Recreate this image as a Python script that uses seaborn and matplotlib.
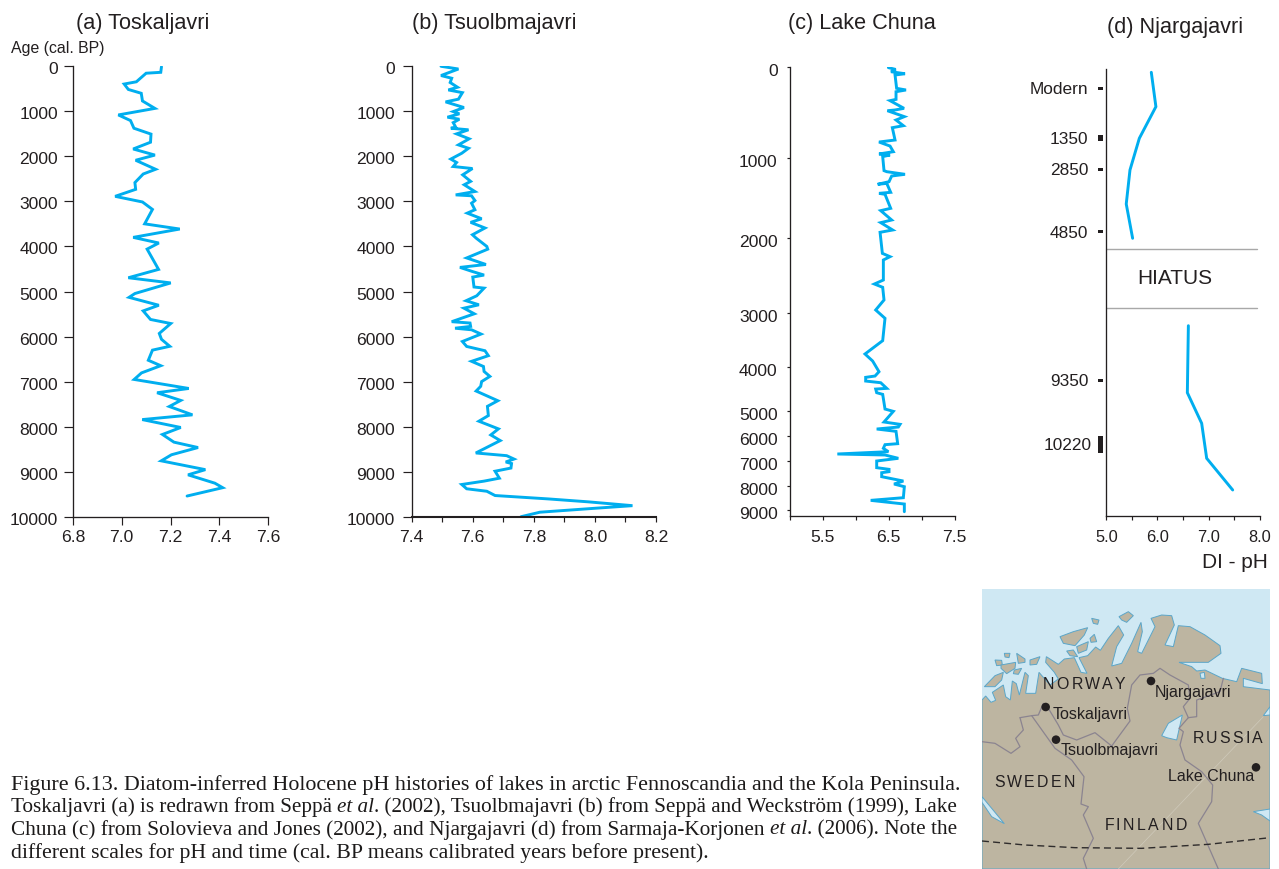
import numpy as np
import matplotlib
matplotlib.use("Agg")
import matplotlib.pyplot as plt
from matplotlib.patches import Polygon
from matplotlib.transforms import ScaledTranslation
import seaborn as sns

W, H = 1279, 869
INK = "#231f20"
BLUE = "#00aeef"
sns.set_theme(style="ticks")
plt.rcParams["font.family"] = ["Liberation Sans", "DejaVu Sans"]
plt.rcParams["axes.edgecolor"] = INK
plt.rcParams["text.color"] = INK
plt.rcParams["xtick.color"] = INK
plt.rcParams["ytick.color"] = INK

# ---- data -------------------------------------------------------------
a_ph = [7.163,7.160,7.100,7.060,7.010,7.027,7.080,7.085,7.136,6.986,7.036,7.050,7.120,7.118,7.047,7.136,7.057,7.139,7.088,7.054,7.057,6.973,7.085,7.126,7.094,7.238,7.047,7.152,7.104,7.151,7.027,
        7.201,7.054,7.030,7.152,7.088,7.118,7.201,7.154,7.163,7.197,7.126,7.109,7.160,7.081,7.051,7.275,7.145,7.242,7.195,7.290,7.084,7.242,7.167,7.214,7.313,7.204,7.162,7.343,7.272,7.382,7.414,7.268]
a_age = [15,140,160,350,400,520,605,775,940,1085,1210,1380,1510,1690,1840,1975,2090,2290,2395,2585,2735,2890,3015,3180,3500,3615,3800,3925,4060,4510,4695,
         4810,5045,5130,5305,5430,5620,5710,5930,6060,6215,6300,6525,6645,6805,6950,7150,7245,7415,7550,7735,7840,8015,8170,8340,8460,8620,8755,8950,9065,9250,9350,9535]

b_ph = [7.496,7.553,7.496,7.531,7.526,7.550,7.520,7.566,7.553,7.511,7.571,7.536,7.556,7.517,7.556,7.536,7.544,7.528,7.586,7.547,7.588,7.553,7.586,7.564,7.528,7.547,7.536,7.599,7.567,7.593,7.572,7.607,7.544,7.596,7.607,7.596,7.607,7.582,7.629,7.593,7.640,7.599,7.611,7.646,7.649,7.580,7.643,7.558,7.596,7.637,7.600,7.604,7.637,
        7.613,7.578,7.620,7.571,7.605,7.531,7.591,7.593,7.542,7.596,7.627,7.566,7.580,7.640,7.651,7.596,7.635,7.637,7.656,7.629,7.626,7.611,7.682,7.648,7.651,7.620,7.684,7.659,7.690,7.610,7.711,7.735,7.708,7.727,7.725,7.673,7.687,7.637,7.564,7.580,7.646,7.673,7.847,7.978,8.123,8.006,7.820,7.758]
b_age = [0,60,205,265,360,465,525,585,730,790,915,1005,1055,1130,1175,1250,1350,1375,1410,1500,1610,1745,1820,1930,2060,2135,2225,2270,2410,2555,2630,2780,2855,2875,2980,3040,3185,3260,3385,3465,3590,3740,3815,4000,4060,4255,4400,4465,4550,4635,4680,4900,4925,
         5095,5205,5295,5370,5495,5670,5700,5775,5815,5850,5945,6110,6220,6315,6425,6550,6665,6775,6885,7000,7105,7210,7425,7550,7755,7880,8050,8185,8310,8585,8645,8720,8785,8820,8920,8990,9145,9210,9285,9380,9435,9530,9605,9670,9755,9810,9900,10000]

c_ph = [6.495,6.606,6.535,6.747,6.596,6.620,6.762,6.611,6.611,6.520,6.732,6.596,6.480,6.737,6.611,6.722,6.555,6.596,6.353,6.520,6.570,6.353,6.520,6.409,6.429,6.470,6.747,6.545,6.505,6.333,6.470,6.530,6.353,6.444,6.530,6.379,6.545,6.379,6.560,6.369,6.404,6.520,6.419,6.419,6.283,6.409,6.429,6.303,6.444,6.409,6.141,6.257,6.353,6.293,6.151,6.151,6.379,6.470,6.303,6.318,6.409,6.444,6.570,6.429,6.672,6.646,6.318,6.611,6.636,6.444,6.419,6.495,5.722,6.444,6.646,6.318,6.318,6.505,6.505,6.394,6.394,6.722,6.581,6.737,6.722,6.227,6.737,6.737]
c_age = [10,30,55,77,91,237,255,274,358,372,456,474,482,547,584,646,668,803,825,869,931,956,967,985,1158,1171,1204,1225,1296,1329,1317,1429,1442,1454,1629,1658,1775,1808,1900,1929,2204,2248,2292,2558,2611,2655,2823,2956,3094,3512,3762,3894,4114,4212,4242,4326,4364,4492,4508,4591,4629,4962,5026,5447,5539,5645,5724,5816,6307,6347,6493,6627,6720,6760,6893,7000,7270,7338,7432,7473,7635,7811,7932,8042,8500,8611,8764,9083]
c_tick_age = [0,1000,2000,3000,4000,5000,6000,7000,8000,9000,9250]
c_tick_pos = [66.7,158,238,313.3,366.7,410.7,436,461,485.7,509.7,515.7]

d_upper_ph = [5.88,5.97,5.646,5.463,5.39,5.515]
d_upper_depth = [3.3,37.7,69.3,101,135,169.3]
d_lower_ph = [6.605,6.585,6.865,6.963,7.472]
d_lower_depth = [256.7,323.7,354.3,389.3,421]
d_labels = ["Modern","1350","2850","4850","9350","10220"]
d_label_depth = [19.3,68.7,100.3,162.7,311,375]
d_mark_height = [3,6,3,3,3,17]
d_hiatus_depth = [180,238.7]

titles = ["(a) Toskaljavri","(b) Tsuolbmajavri","(c) Lake Chuna","(d) Njargajavri"]
caption_lines = [
    [("Figure 6.13. Diatom-inferred Holocene pH histories of lakes in arctic Fennoscandia and the Kola Peninsula.","normal")],
    [("Toskaljavri (a) is redrawn from Seppä ","normal"),("et al","italic"),(". (2002), Tsuolbmajavri (b) from Seppä and Weckström (1999), Lake","normal")],
    [("Chuna (c) from Solovieva and Jones (2002), and Njargajavri (d) from Sarmaja-Korjonen ","normal"),("et al","italic"),(". (2006). Note the","normal")],
    [("different scales for pH and time (cal. BP means calibrated years before present).","normal")],
]

# ---- map outlines (in map sketch units) --------------------------------
land = [(21,852),(21,345),(32,333),(48,352),(62,346),(52,322),(85,300),(92,335),(106,345),(112,288),(124,296),(133,330),(150,262),(160,272),(152,325),(182,325),(192,262),(225,300),(250,282),(238,262),(212,232),(214,215),(250,238),(268,222),(298,218),(318,262),(336,265),(312,218),(338,212),(362,186),(376,196),(400,160),(430,122),(446,150),(425,185),(410,243),(440,235),(470,175),(498,112),(502,140),(488,200),(500,205),(520,165),(540,125),(528,100),(560,90),(590,92),(598,120),(570,180),(595,185),(610,122),(645,125),(690,150),(735,182),(738,205),(700,232),(612,232),(650,245),(665,258),(690,255),(742,280),(785,290),(800,250),(860,265),(862,296),(805,280),(805,305),(885,315),(885,852)]
islands = [
    [(60,225),(80,226),(82,240),(65,242)],[(88,205),(105,205),(102,218),(90,216)],
    [(125,205),(150,222),(150,232),(130,235)],[(78,240),(122,232),(120,250),(95,266),(78,250)],
    [(118,255),(140,250),(130,268),(115,266)],[(165,225),(195,215),(185,238),(165,240)],
    [(28,305),(60,272),(85,262),(80,285),(60,305)],[(255,155),(295,140),(338,128),(328,150),(300,182),(265,175)],
    [(305,185),(340,170),(335,195),(310,205)],[(345,160),(358,148),(365,170),(348,172)],
    [(275,198),(295,195),(308,215),(285,212)],[(350,100),(372,105),(368,118),(355,115)],
    [(432,95),(460,80),(475,92),(455,112),(440,105)],
]
lakes = [
    [(560,452),(580,415),(622,390),(605,465),(575,458)],[(21,635),(50,670),(88,716),(50,695),(21,652)],
    [(835,680),(885,672),(885,708),(860,690)],[(865,392),(885,365),(885,390)],[(675,265),(688,262),(690,280),(678,280)],
]
borders = [
    [(135,398),(170,392),(190,390),(205,355),(220,370),(250,420),(265,450),(305,465),(360,443),(410,483),(465,408),(457,370),(470,300),(495,270),(535,265),(555,250),(585,270),(640,300),(645,340),(625,365),(640,398),(612,430),(625,440),(615,480),(630,525),(680,560),(713,600),(710,650),(670,715),(730,852)],
    [(745,280),(735,320),(665,345),(665,395),(640,398)],
    [(21,470),(60,475),(108,505),(135,485),(122,460),(145,435),(135,398)],
    [(170,392),(240,490),(290,525),(327,575),(318,657),(340,665),(325,690),(355,760),(325,820),(335,852)],
]
arctic_x = [21,150,300,500,700,885]
arctic_y = [768,780,788,790,778,758]
graticule_x = [865,430]
graticule_y = [395,852]
sites = [("Toskaljavri",212,366,232,390),("Tsuolbmajavri",243,464,258,495),("Njargajavri",528,288,539,322),("Lake Chuna",843,547,580,575)]
countries = [("NORWAY",203,445,298),("RUSSIA",652,862,460),("SWEDEN",57,300,592),("FINLAND",390,635,720)]

# ---- helpers -----------------------------------------------------------
fig = plt.figure(figsize=(W/100, H/100), dpi=100, facecolor="white")
rend = fig.canvas.get_renderer()

def px_ax(l, t, r, b, **kw):
    return fig.add_axes([l/W, 1-b/H, (r-l)/W, (b-t)/H], **kw)

def ptext(x, y, s, **kw):
    kw.setdefault("va", "center")
    return fig.text(x/W, 1-y/H, s, **kw)

def measure(s, **kw):
    t = fig.text(0, 0, s+".", **kw); w1 = t.get_window_extent(rend).width; t.remove()
    t = fig.text(0, 0, ".", **kw); w2 = t.get_window_extent(rend).width; t.remove()
    return w1-w2

def shift_labels(labels, dy_px):
    off = ScaledTranslation(0, -dy_px/100, fig.dpi_scale_trans)
    for l in labels:
        l.set_transform(l.get_transform()+off)

def line(ax, x, y):
    sns.lineplot(x=x, y=y, ax=ax, sort=False, estimator=None, color=BLUE, linewidth=2.1,
                 solid_joinstyle="miter", legend=False)
    ax.set_xlabel(""); ax.set_ylabel("")

def style(ax, xlen, ylen, xpad, ypad, size=12.6):
    sns.despine(ax=ax)
    for s in ("left", "bottom"):
        ax.spines[s].set_linewidth(0.95)
    ax.tick_params(axis="x", length=xlen, width=0.85, pad=xpad, labelsize=size)
    ax.tick_params(axis="y", length=ylen, width=0.85, pad=ypad, labelsize=size)
    ax.patch.set_alpha(0)

# ---- panel a -----------------------------------------------------------
ax = px_ax(73, 66, 268, 517)
line(ax, a_ph, a_age)
ax.set_xlim(6.8, 7.6); ax.set_ylim(10000, 0)
ax.set_xticks([6.8,7.0,7.2,7.4,7.6], ["6.8","7.0","7.2","7.4","7.6"])
ax.set_yticks(range(0,10001,1000))
style(ax, 5.8, 6.5, 3.4, 4.3)
shift_labels(ax.get_yticklabels(), 2)

# ---- panel b -----------------------------------------------------------
ax = px_ax(411.7, 66.3, 656, 516.7)
line(ax, b_ph, b_age)
ax.set_xlim(7.4, 8.2); ax.set_ylim(10000, 0)
ax.set_xticks(np.arange(7.4,8.21,0.1), ["7.4","","7.6","","7.8","","8.0","","8.2"])
ax.set_yticks(range(0,10001,1000))
style(ax, 3.6, 6.5, 6.0, 5.6)
ax.spines["bottom"].set_linewidth(1.5)
shift_labels(ax.get_yticklabels(), 2)

# ---- panel c -----------------------------------------------------------
def c_fwd(v): return np.interp(v, c_tick_age, c_tick_pos)
def c_inv(v): return np.interp(v, c_tick_pos, c_tick_age)
ax = px_ax(789.7, 66.7, 954.7, 515.7)
ax.set_yscale("function", functions=(c_fwd, c_inv))
line(ax, c_ph, c_age)
ax.set_xlim(5.0, 7.5); ax.set_ylim(9250, 0)
ax.set_xticks(np.arange(5,7.51,0.5), ["","5.5","","6.5","","7.5"])
ax.set_yticks(c_tick_age[:-1], [str(v) for v in c_tick_age[:-1]])
ax.minorticks_off()
style(ax, 3, 2.2, 7.2, 6.5)
shift_labels(ax.get_yticklabels(), 3)

# ---- panel d -----------------------------------------------------------
ax = px_ax(1106.3, 69, 1259.7, 515.7)
line(ax, d_upper_ph, d_upper_depth)
line(ax, d_lower_ph, d_lower_depth)
ax.set_xlim(5, 8); ax.set_ylim(446.7, 0)
ax.set_xticks(np.arange(5,8.01,0.5), ["5.0","","6.0","","7.0","","8.0"])
ax.set_yticks(d_label_depth, d_labels)
style(ax, 3, 0, 7.0, 13, size=11.8)
ax.tick_params(axis="y", labelsize=12.4)
for tick, lab in zip(ax.yaxis.get_major_ticks(), d_labels):
    if lab == "10220":
        tick.set_pad(10.5)
ytr = ax.get_yaxis_transform()
for dep, h in zip(d_label_depth, d_mark_height):
    ax.add_patch(plt.Rectangle((-8.3/153.4, dep-h/2), 5/153.4, h, transform=ytr, clip_on=False,
                               facecolor=INK, edgecolor="none"))
for dep in d_hiatus_depth:
    ax.plot([0, 0.985], [dep, dep], transform=ytr, color="#a8a8a8", lw=1.0)
ax.text(6.34, 210, "HIATUS", ha="center", va="center", fontsize=15, color=INK)

# ---- titles ------------------------------------------------------------
for t, x, y in zip(titles, [142.5,494,862,1175], [24,24,24,27]):
    ptext(x, y, t, ha="center", fontsize=15.6, color=INK)
ptext(11, 48, "Age (cal. BP)", ha="left", fontsize=11.4, color=INK)
ptext(1268, 563, "DI - pH", ha="right", fontsize=15, color=INK)

# ---- caption -----------------------------------------------------------
for runs, y, target in zip(caption_lines, [785,807,830,853], [953,953,953,701]):
    base = 14.0
    tot = sum(measure(s, family="Liberation Serif", style=st, fontsize=base) for s, st in runs)
    size = base*target/tot
    x = 11
    for s, st in runs:
        ptext(x, y, s, ha="left", family="Liberation Serif", style=st, fontsize=size, color="#1c1a1a")
        x += measure(s, family="Liberation Serif", style=st, fontsize=size)

# ---- map ---------------------------------------------------------------
m = px_ax(982, 589, 1270, 869)
m.set_xlim(21, 885); m.set_ylim(852, 12)
m.set_facecolor("#cfe8f3")
m.set_xticks([]); m.set_yticks([])
for s in m.spines.values():
    s.set_visible(False)
m.add_patch(Polygon(land, closed=True, facecolor="#bdb5a1", edgecolor="#5ba6c9", lw=0.7))
for p in islands:
    m.add_patch(Polygon(p, closed=True, facecolor="#bdb5a1", edgecolor="#5ba6c9", lw=0.7))
m.plot(graticule_x, graticule_y, color="#cfcabb", lw=0.5)
for p in lakes:
    m.add_patch(Polygon(p, closed=True, facecolor="#cfe8f3", edgecolor="#5ba6c9", lw=0.7))
for p in borders:
    xs, ys = zip(*p)
    m.plot(xs, ys, color="#8b8490", lw=0.9)
m.plot(arctic_x, arctic_y, color="#2f2c2c", lw=1.0, ls=(0, (5, 3)))
for name, dx, dy, tx, ty in sites:
    sns.scatterplot(x=[dx], y=[dy], ax=m, color=INK, s=38, edgecolor="none", legend=False, zorder=5)
    m.text(tx, ty, name, ha="left", va="center", fontsize=11.5, color=INK)
m.set_xlim(21, 885); m.set_ylim(852, 12)
m.set_xlabel(""); m.set_ylabel("")

for word, z0, z1, zy in countries:
    x0, x1 = 975+z0/3, 975+z1/3
    widths = [measure(c, fontsize=11.4) for c in word]
    gap = ((x1-x0)-sum(widths))/(len(word)-1)
    x = x0
    for c, w in zip(word, widths):
        ptext(x, 585+zy/3, c, ha="left", fontsize=11.4, color=INK)
        x += w+gap

fig.savefig("out.png", dpi=100)
